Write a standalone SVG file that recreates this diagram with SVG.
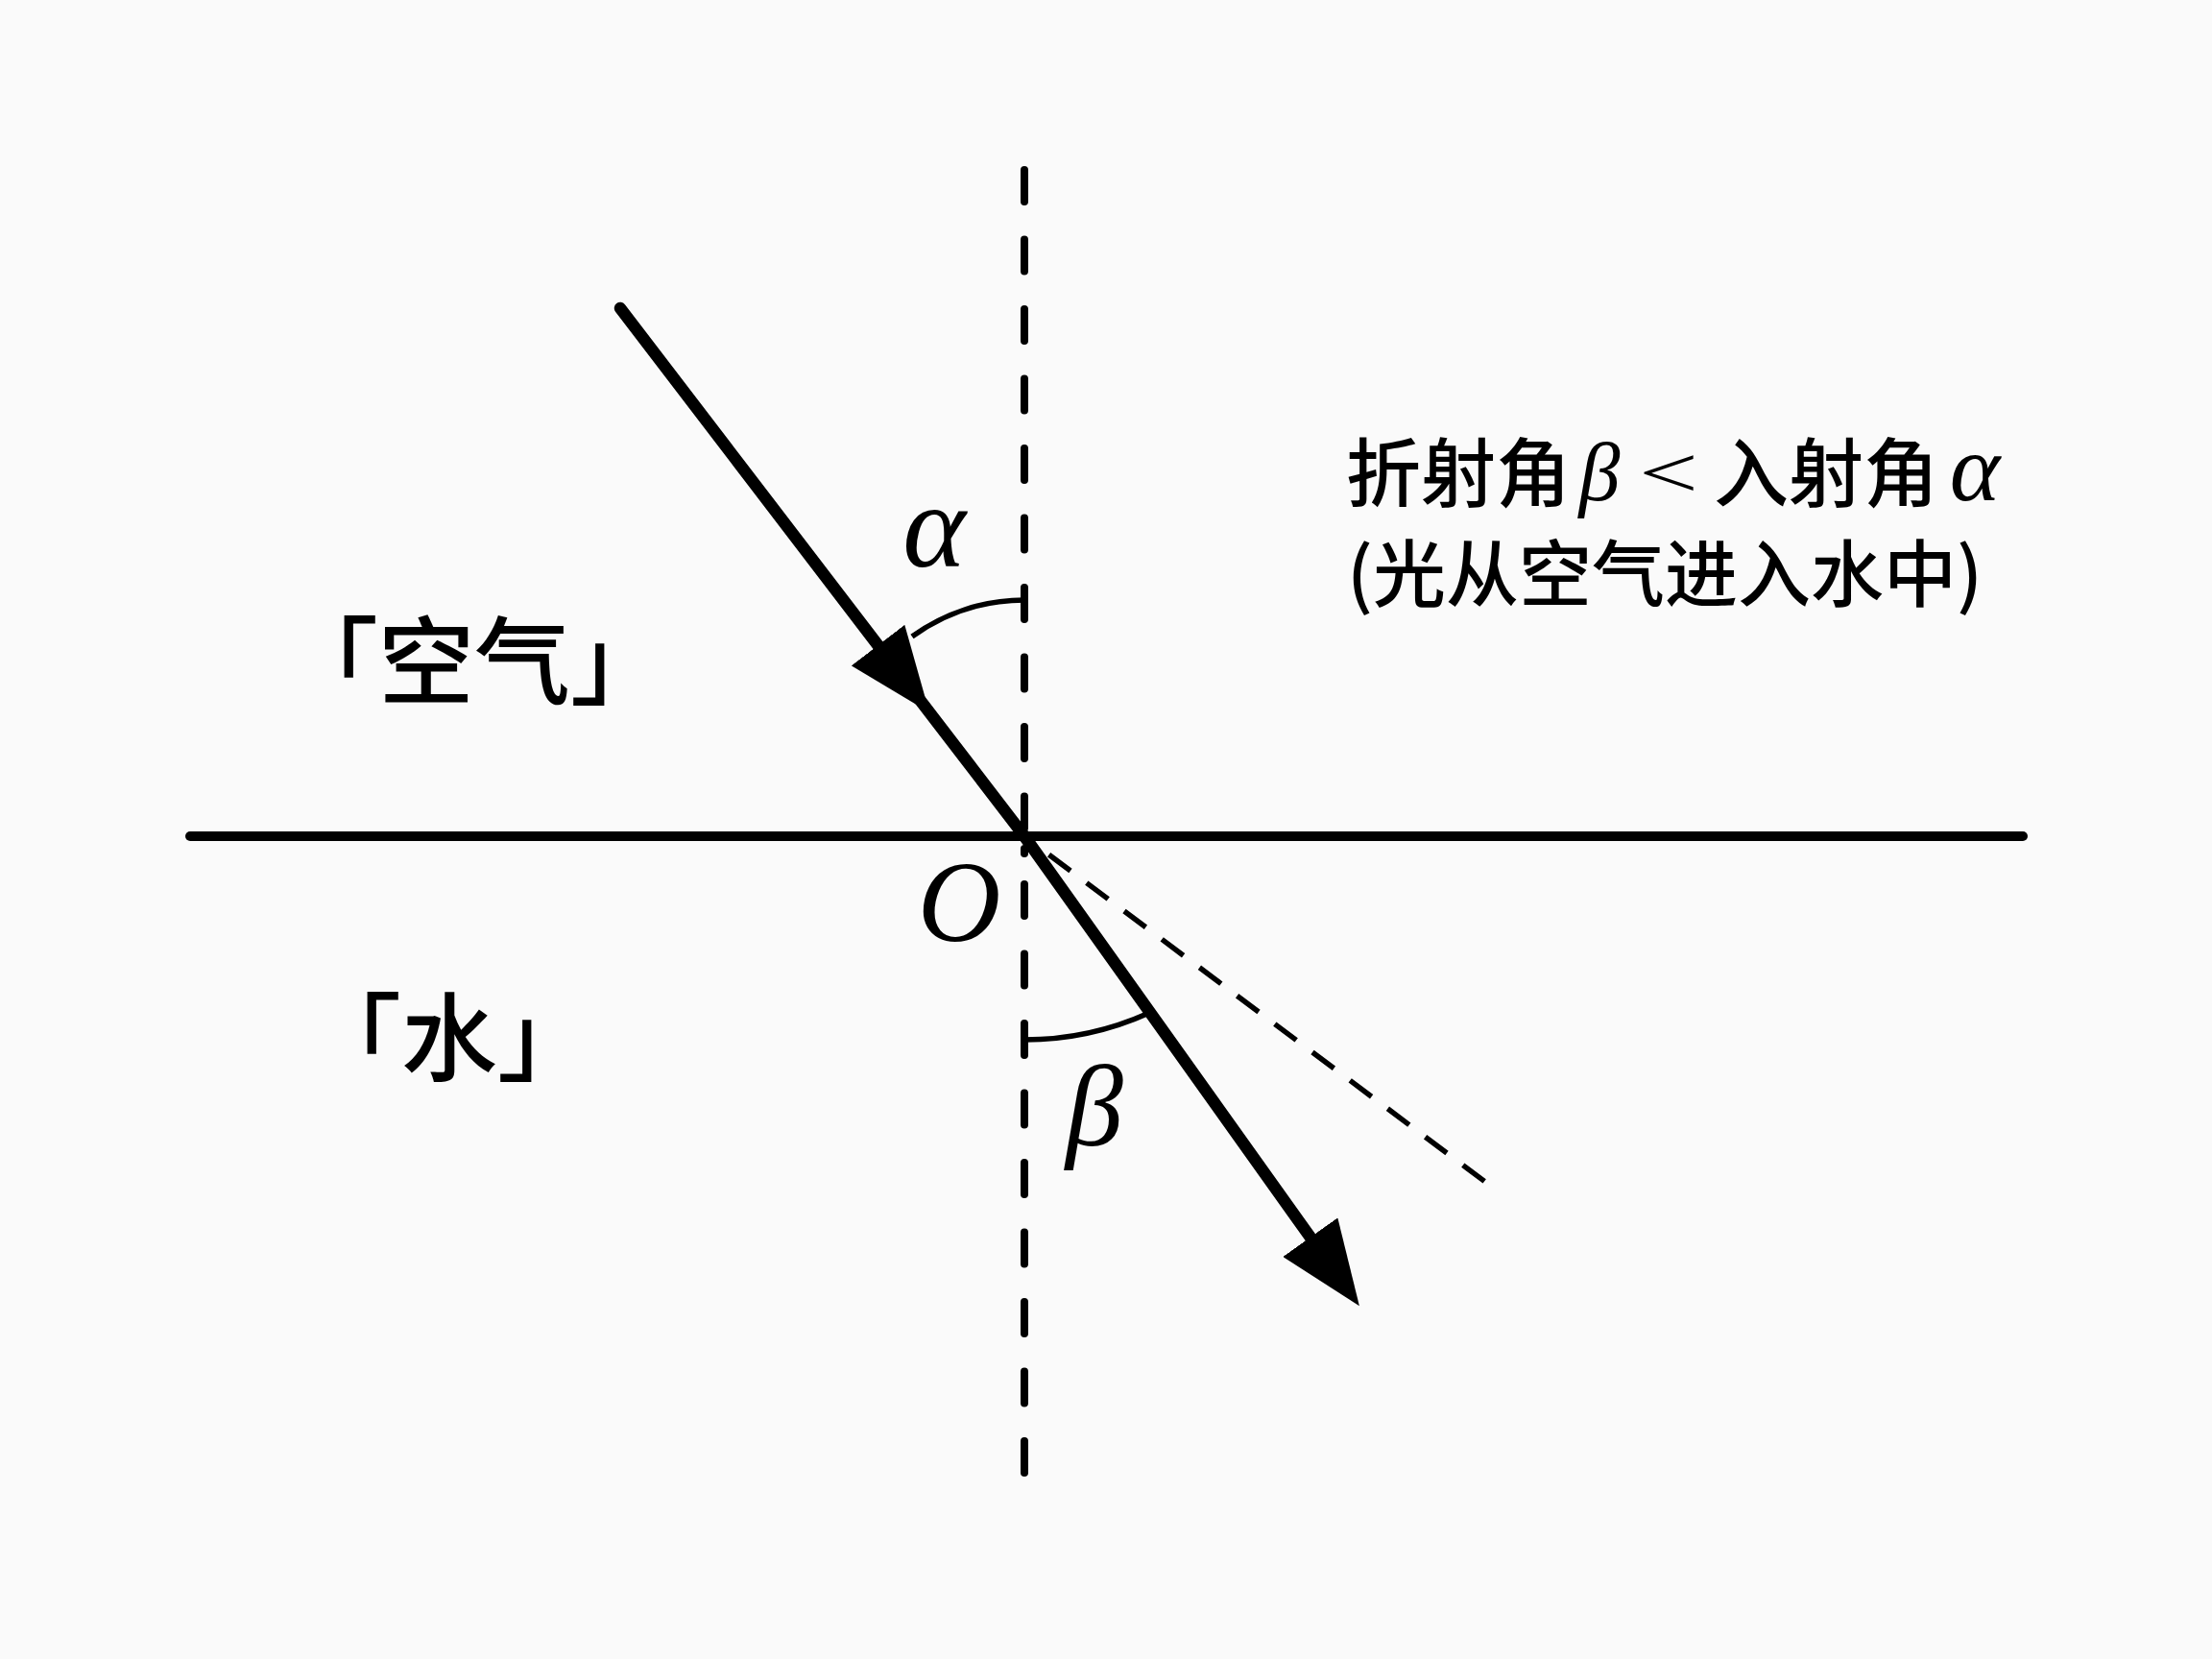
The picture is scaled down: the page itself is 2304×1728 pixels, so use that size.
<svg xmlns="http://www.w3.org/2000/svg" width="2304" height="1728" viewBox="0 0 2304 1728">
  <style>
    .ln { fill: none; stroke: #000; stroke-linecap: round; }
    .normal { fill: none; stroke: #000; stroke-width: 8; stroke-dasharray: 33 39.5; stroke-linecap: round; }
    .ext { fill: none; stroke: #000; stroke-width: 5.5; stroke-dasharray: 28 21; }
    .ray { fill: none; stroke: #000; stroke-width: 12.5; stroke-linecap: round; stroke-linejoin: round; }
    .arc { fill: none; stroke: #000; stroke-width: 5.5; }
    .math { font-family: "Liberation Serif", "DejaVu Serif", serif; font-style: italic; fill: #000; }
    .cjk { font-family: "Noto Sans CJK SC", "Noto Sans", sans-serif; font-weight: 500; fill: #000; }
  </style>
  <defs>
    <marker id="arrow" viewBox="0 -35 88 70" refX="0" refY="0" markerWidth="88" markerHeight="70" markerUnits="userSpaceOnUse" orient="auto">
      <path d="M0,-35 L88,0 L0,35 Z" fill="#000"/>
    </marker>
  </defs>
  <rect x="0" y="0" width="2304" height="1728" fill="#fafafa"/>

  <g id="connectors">
    <g id="normal-line">
      <path class="normal" d="M1067,177 V871"/>
      <path class="normal" d="M1067,884 V889"/>
      <path class="normal" d="M1067,921 V1543"/>
    </g>
    <path id="interface" class="ln" stroke-width="10" d="M198,871 H2107"/>
    <path id="incident-ray" class="ray" d="M646,321 L914.5,672.1 L1067,871" marker-mid="url(#arrow)"/>
    <path id="refracted-ray" class="ray" stroke-linecap="butt" d="M1067,871 L1364.8,1288.7" marker-end="url(#arrow)"/>
    <path id="extension" class="ext" d="M1092.6,890.2 L1555,1237"/>
    <path id="arc-alpha" class="arc" d="M1067,625 A200,200 0 0 0 950,663"/>
    <path id="arc-beta" class="arc" d="M1067,1083 A316,316 0 0 0 1197,1055"/>
  </g>

  <g id="label-alpha"><text class="math" x="973" y="590" font-size="125" text-anchor="middle">α</text></g>
  <g id="label-O"><text class="math" x="999" y="980" font-size="120" text-anchor="middle">O</text></g>
  <g id="label-beta"><text class="math" x="1140" y="1193" font-size="120" text-anchor="middle">β</text></g>

  <g id="label-air"><text class="cjk" x="294" y="726" font-size="100">「空气」</text></g>
  <g id="label-water"><text class="cjk" x="318" y="1118" font-size="100">「水」</text></g>

  <g id="note">
    <text class="cjk" x="1402" y="522" font-size="78">折射角</text>
    <text class="math" x="1666" y="521" font-size="86" text-anchor="middle">β</text>
    <text transform="translate(1738,518) scale(1.1,0.76)" x="0" y="0" font-family="Liberation Serif, serif" font-size="100" text-anchor="middle" fill="#000">&lt;</text>
    <text class="cjk" x="1785" y="522" font-size="78">入射角</text>
    <text class="math" x="2057" y="521" font-size="100" text-anchor="middle">α</text>
    <text class="cjk" x="1403" y="626" font-size="76">(光从空气进入水中)</text>
  </g>
</svg>
